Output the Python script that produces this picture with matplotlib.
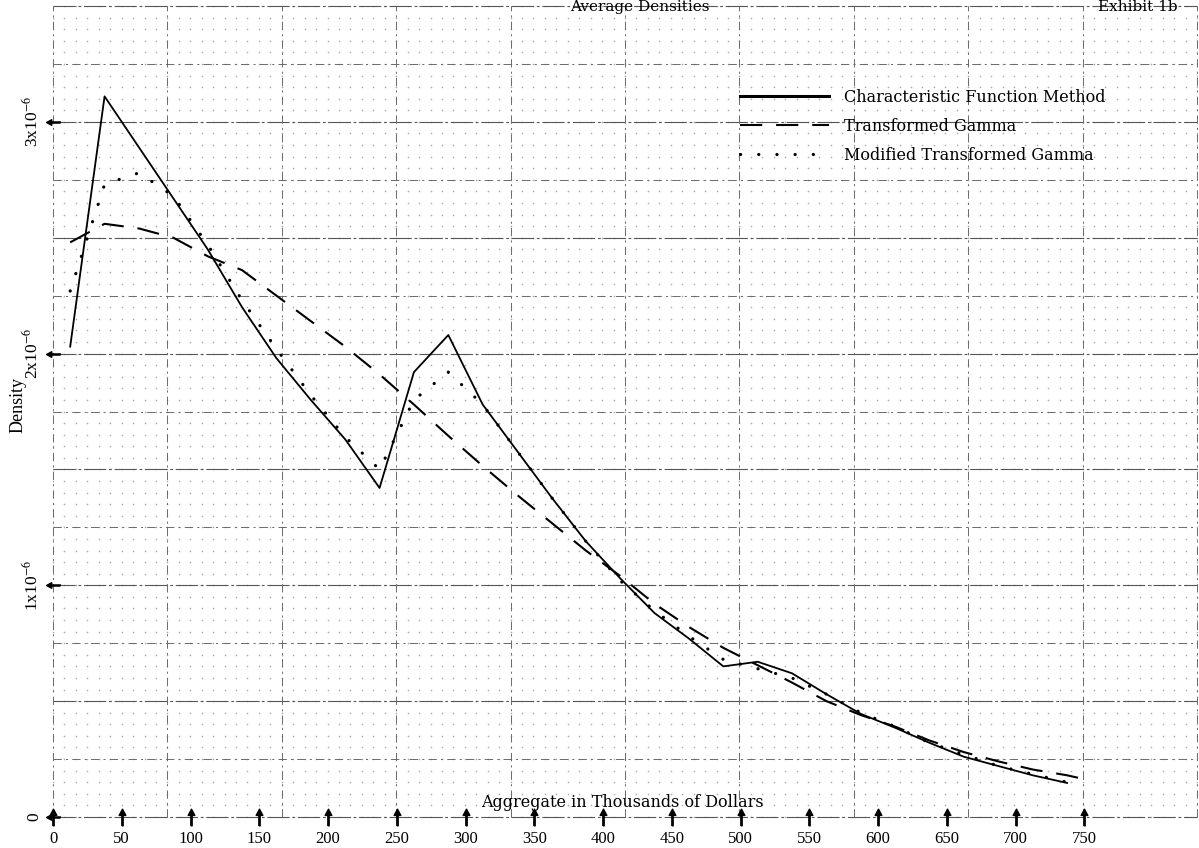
import numpy as np
import matplotlib.pyplot as plt

plt.rcParams['lines.scale_dashes'] = False
plt.rcParams['mathtext.fontset'] = 'stix'

# aggregate in thousands of dollars, densities in units of 1e-6
aggregate = [12.5, 37.5, 62.5, 87.5, 112.5, 137.5, 162.5, 187.5, 212.5, 237.5,
             262.5, 287.5, 312.5, 337.5, 362.5, 387.5, 412.5, 437.5, 462.5, 487.5,
             512.5, 537.5, 562.5, 587.5, 612.5, 637.5, 662.5, 687.5, 712.5, 737.5]
char_fn = [2.03, 3.11, 2.89, 2.67, 2.45, 2.20, 1.98, 1.80, 1.63, 1.42,
           1.92, 2.08, 1.78, 1.58, 1.38, 1.19, 1.03, 0.88, 0.77, 0.65,
           0.67, 0.62, 0.53, 0.445, 0.385, 0.32, 0.26, 0.22, 0.18, 0.147]
mod_gamma = [2.27, 2.73, 2.78, 2.68, 2.47, 2.23, 2.02, 1.82, 1.64, 1.50,
             1.80, 1.92, 1.78, 1.58, 1.38, 1.19, 1.02, 0.89, 0.78, 0.68,
             0.64, 0.60, 0.53, 0.45, 0.39, 0.32, 0.27, 0.22, 0.185, 0.15]
tg_aggregate = aggregate + [752.5]
trans_gamma = [2.48, 2.56, 2.54, 2.50, 2.42, 2.36, 2.25, 2.14, 2.03, 1.91,
               1.78, 1.645, 1.515, 1.39, 1.27, 1.15, 1.04, 0.92, 0.82, 0.73,
               0.655, 0.58, 0.50, 0.44, 0.39, 0.33, 0.28, 0.24, 0.205, 0.18, 0.16]

x_ticks = [0, 50, 100, 150, 200, 250, 300, 350, 400, 450, 500, 550, 600, 650, 700, 750]
y_ticks = [0, 1, 2, 3]
y_labels = ['0', '1x10$^{-6}$', '2x10$^{-6}$', '3x10$^{-6}$']

fig = plt.figure(figsize=(11.99, 8.48), dpi=100)
rect = [53 / 1199, 31 / 848, 1144 / 1199, 811 / 848]

# graph paper underneath
paper = fig.add_axes(rect, zorder=0)
paper.set_xlim(0, 100)
paper.set_ylim(0, 70)
paper.axis('off')
gx, gy = np.meshgrid(np.arange(101), np.arange(71))
paper.scatter(gx.ravel(), gy.ravel(), s=1.3, c='#a8a8a8', lw=0)
for r in range(0, 71, 5):
    if r % 10 == 0:
        paper.axhline(r, color='#555555', lw=0.8, ls=(0, (16, 2, 2, 2)), clip_on=False)
    else:
        paper.axhline(r, color='#6a6a6a', lw=0.7, ls=(0, (6, 3, 1.5, 3)), clip_on=False)
for c in range(0, 101, 10):
    paper.axvline(c, color='#6a6a6a', lw=0.7, ls=(0, (6, 3, 1.5, 3)), clip_on=False)

ax = fig.add_axes(rect, zorder=1)
ax.patch.set_visible(False)
for s in ax.spines.values():
    s.set_visible(False)

ax.plot(aggregate, char_fn, color='black', lw=1.3, label='Characteristic Function Method')
ax.plot(tg_aggregate, trans_gamma, color='black', lw=1.5, dashes=(16, 10),
        label='Transformed Gamma')
ax.plot(aggregate, mod_gamma, color='black', lw=2.3, dashes=(0.1, 13),
        dash_capstyle='round', label='Modified Transformed Gamma')

ax.set_xlim(0, 832)
ax.set_ylim(0, 3.5)
ax.set_xticks(x_ticks)
ax.set_xticklabels([str(v) for v in x_ticks], family='Liberation Serif', fontsize=12)
ax.tick_params(axis='x', length=0, pad=10)
ax.set_yticks(y_ticks)
ax.set_yticklabels(y_labels, rotation=90, va='center', family='Liberation Serif', fontsize=12.5)
ax.tick_params(axis='y', length=0, pad=8)

# arrow-shaped tick marks
up = [(-0.08, -1), (0.08, -1), (0.08, 0.25), (0.4, 0.25), (0, 1), (-0.4, 0.25),
      (-0.08, 0.25), (-0.08, -1)]
left = [(-y, x) for x, y in up]
ax.plot(x_ticks, [0] * len(x_ticks), ls='none', marker=up, ms=12, color='k', clip_on=False)
ax.plot([0] * len(y_ticks), y_ticks, ls='none', marker=left, ms=10, color='k', clip_on=False)

leg = ax.legend(loc='upper left', bbox_to_anchor=(0.6005, 0.898), frameon=False,
                handlelength=5.6, handletextpad=0.9, labelspacing=0.75, borderpad=0,
                borderaxespad=0, prop={'family': 'DejaVu Serif', 'size': 11.5})
leg.get_lines()[0].set_linewidth(2.2)

ax.text(0.498, 0.0173, 'Aggregate in Thousands of Dollars', transform=ax.transAxes,
        ha='center', va='center', family='DejaVu Serif', fontsize=11.5)
fig.text(18 / 1199, 1 - 405 / 848, 'Density', rotation=90, ha='center', va='center',
         family='Liberation Serif', fontsize=13)
fig.text(640 / 1199, 0.9995, 'Average Densities', ha='center', va='top',
         family='DejaVu Serif', fontsize=11)
fig.text(1138 / 1199, 0.9995, 'Exhibit 1b', ha='center', va='top',
         family='DejaVu Serif', fontsize=11)

fig.savefig('out.png', dpi=100)
